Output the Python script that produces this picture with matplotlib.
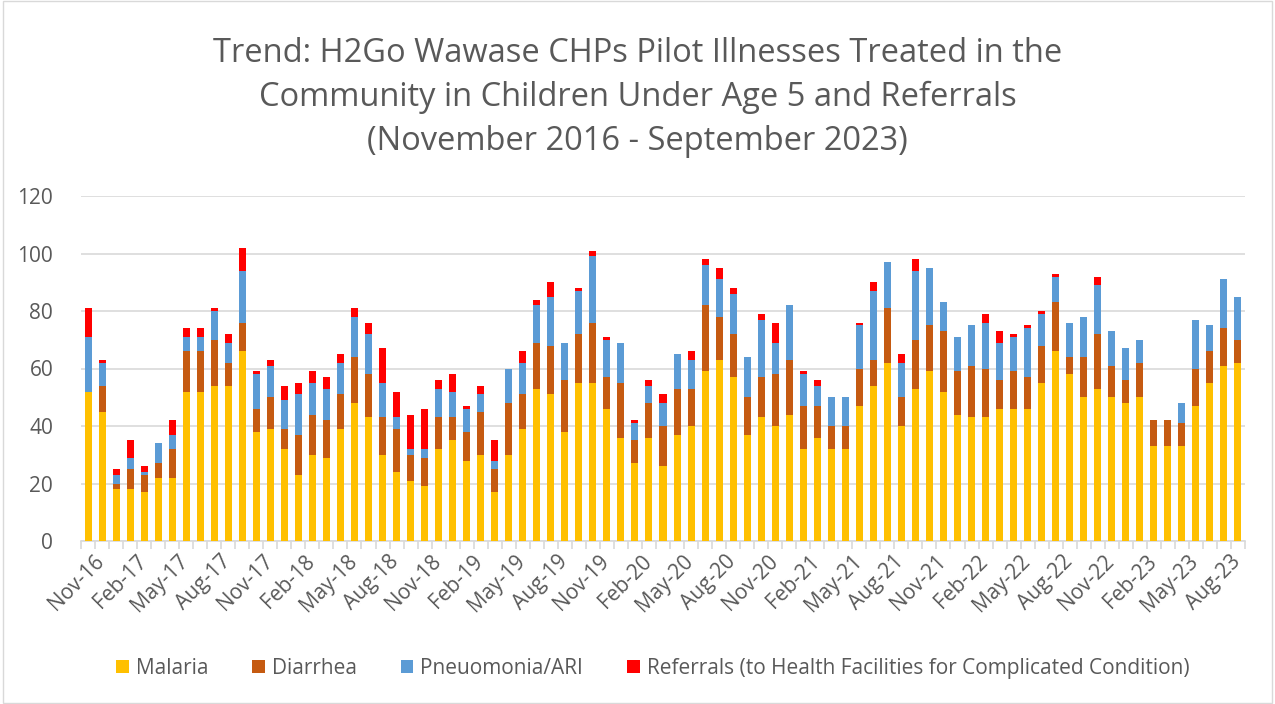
import numpy as np
import matplotlib.pyplot as plt
from matplotlib.patches import Rectangle
from matplotlib.transforms import ScaledTranslation

# months Nov-16 .. Sep-23
month_names = ['Jan', 'Feb', 'Mar', 'Apr', 'May', 'Jun', 'Jul', 'Aug', 'Sep', 'Oct', 'Nov', 'Dec']
months = []
for y in range(16, 24):
    for m in month_names:
        months.append(f'{m}-{y}')
months = months[months.index('Nov-16'):months.index('Sep-23') + 1]

malaria = [52, 45, 18, 18, 17, 22, 22, 52, 52, 54, 54, 66, 38, 39,
           32, 23, 30, 29, 39, 48, 43, 30, 24, 21, 19, 32, 35, 28,
           30, 17, 30, 39, 53, 51, 38, 55, 55, 46, 36, 27, 36,
           26, 37, 40, 59, 63, 57, 37, 43, 40, 44, 32, 36, 32, 32,
           47, 54, 62, 40, 53, 59, 52, 44, 43, 43, 46, 46, 46,
           55, 66, 58, 50, 53, 50, 48, 50, 33, 33, 33, 47, 55, 61, 62]
diarrhea = [0, 9, 2, 7, 6, 5, 10, 14, 14, 16, 8, 10, 8, 11,
            7, 14, 14, 13, 12, 16, 15, 13, 15, 9, 10, 11, 8, 10,
            15, 8, 18, 12, 16, 17, 18, 17, 21, 11, 19, 8, 12,
            14, 16, 13, 23, 15, 15, 13, 14, 18, 19, 15, 11, 8, 8,
            13, 9, 19, 10, 17, 16, 21, 15, 18, 17, 10, 13, 11,
            13, 17, 6, 14, 19, 11, 8, 12, 9, 9, 8, 13, 11, 13, 8]
pneumonia = [19, 8, 3, 4, 1, 7, 5, 5, 5, 10, 7, 18, 12, 11,
             10, 14, 11, 11, 11, 14, 14, 12, 4, 2, 3, 10, 9, 8,
             6, 3, 12, 11, 13, 17, 13, 15, 23, 13, 14, 6, 6,
             8, 12, 10, 14, 13, 14, 14, 20, 11, 19, 11, 7, 10, 10,
             15, 24, 16, 12, 24, 20, 10, 12, 14, 16, 13, 12, 17,
             11, 9, 12, 14, 17, 12, 11, 8, 0, 0, 7, 17, 9, 17, 15]
referrals = [10, 1, 2, 6, 2, 0, 5, 3, 3, 1, 3, 8, 1, 2,
             5, 4, 4, 4, 3, 3, 4, 12, 9, 12, 14, 3, 6, 1,
             3, 7, 0, 4, 2, 5, 0, 1, 2, 1, 0, 1, 2,
             3, 0, 3, 2, 4, 2, 0, 2, 7, 0, 1, 2, 0, 0,
             1, 3, 0, 3, 4, 0, 0, 0, 0, 3, 4, 1, 1,
             1, 1, 0, 0, 3, 0, 0, 0, 0, 0, 0, 0, 0, 0, 0]

series = [
    ('Malaria', malaria, '#FFC000'),
    ('Diarrhea', diarrhea, '#C55A11'),
    ('Pneuomonia/ARI', pneumonia, '#5B9BD5'),
    ('Referrals (to Health Facilities for Complicated Condition)', referrals, '#FF0000'),
]

plt.rcParams['font.family'] = ['Open Sans', 'DejaVu Sans']
text_color = '#595959'

fig = plt.figure(figsize=(12.75, 7.04), dpi=100)
ax = fig.add_axes([81 / 1275, 163 / 704, 1164 / 1275, 345 / 704])

x = np.arange(len(months))
bottom = np.zeros(len(months))
for name, vals, color in series:
    ax.bar(x, vals, width=0.5, bottom=bottom, color=color, label=name, zorder=3)
    bottom += np.array(vals)

ax.set_xlim(-0.5, len(months) - 0.5)
ax.set_ylim(0, 120)
ax.set_yticks(range(0, 121, 20))
ax.grid(axis='y', color='#d9d9d9', linewidth=1.2, zorder=0)
for s in ['top', 'right', 'left']:
    ax.spines[s].set_visible(False)
ax.spines['bottom'].set_color('#d9d9d9')
ax.spines['bottom'].set_linewidth(1.2)
ax.tick_params(axis='y', length=0, labelsize=15, labelcolor=text_color, pad=20)

ax.set_xticks(x[::3])
ax.set_xticklabels(months[::3], rotation=45, ha='right', rotation_mode='anchor',
                   fontsize=15, color=text_color)
ax.tick_params(axis='x', which='major', length=0, pad=7)
ax.set_xticks(np.arange(-0.5, len(months), 1), minor=True)
ax.tick_params(axis='x', which='minor', length=6, color='#d9d9d9', width=1.2)
shift = ScaledTranslation(6 / 100, 0, fig.dpi_scale_trans)
for lbl in ax.get_xticklabels():
    lbl.set_transform(lbl.get_transform() + shift)

fig.suptitle('Trend: H2Go Wawase CHPs Pilot Illnesses Treated in the\n'
             'Community in Children Under Age 5 and Referrals\n'
             '(November 2016 - September 2023)',
             y=0.948, fontsize=23.5, color=text_color, linespacing=1.45)

fig.legend(loc='center', bbox_to_anchor=(0.512, 0.051), ncol=4, frameon=False,
           fontsize=15, labelcolor=text_color, handlelength=0.6, handleheight=0.6,
           columnspacing=2.1, handletextpad=0.35)

fig.patches.append(Rectangle((0.002, 0.002), 0.996, 0.996, transform=fig.transFigure,
                             fill=False, edgecolor='#d9d9d9', linewidth=1))

fig.savefig('out.png', dpi=100)
